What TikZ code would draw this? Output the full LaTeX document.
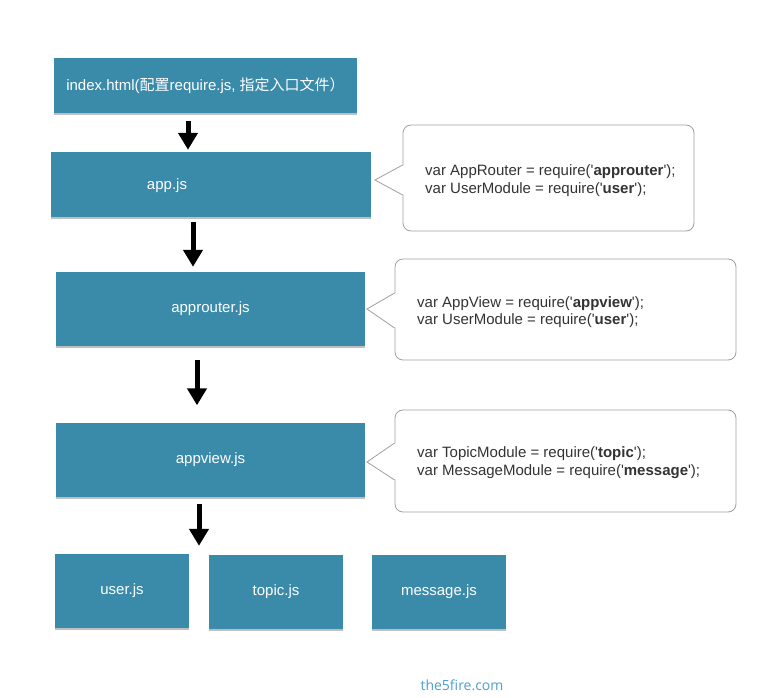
\documentclass[tikz,border=0pt]{standalone}
\usepackage{fontspec}
\setmainfont{Liberation Sans}
\newfontfamily\cjk{Noto Sans CJK SC}
\newfontfamily\wmfont{Open Sans}
\usetikzlibrary{arrows.meta,shadows}
\newcommand\sq{\textquotesingle}
\definecolor{boxblue}{RGB}{58,138,170}
\definecolor{calloutgray}{RGB}{160,160,160}
\definecolor{codegray}{RGB}{51,51,51}
\definecolor{wmblue}{RGB}{77,160,208}
\tikzset{
  modbox/.style={fill=boxblue, draw=none, inner sep=0pt, text=white,
    font=\fontsize{15}{17}\selectfont,
    drop shadow={shadow xshift=0pt, shadow yshift=-2pt, opacity=0.25, fill=black}},
  boxlabel/.style={text=white, inner sep=0pt, font=\fontsize{15}{17}\selectfont},
  callbox/.style={draw=calloutgray, line width=0.8pt, rounded corners=8pt, fill=white, inner sep=0pt},
  calltext/.style={text=codegray, inner sep=0pt, align=left, font=\fontsize{15}{17.5}\selectfont},
  pointer/.style={draw=calloutgray, line width=0.8pt},
  bigarrow/.style={line width=5pt, -{Triangle[width=19pt,length=17pt]}, black}
}
\begin{document}
\begin{tikzpicture}[x=1pt,y=-1pt]
\useasboundingbox[fill=white] (0,0) rectangle (780,698);

% module boxes
\node[modbox, minimum width=303pt, minimum height=55pt] (index) at (205.5,86)
  {index.html({\cjk 配置}require.js, {\cjk 指定入口文件）}};
\node[modbox, minimum width=320pt, minimum height=65pt] (app) at (211,184.5) {};
\node[boxlabel] (applbl) at (167,186) {app.js};
\node[modbox, minimum width=309pt, minimum height=74pt] (approuter) at (210.5,309) {approuter.js};
\node[modbox, minimum width=309pt, minimum height=74pt] (appview) at (210.5,459.5) {appview.js};
\node[modbox, minimum width=134pt, minimum height=74pt] (user) at (122,591) {user.js};
\node[modbox, minimum width=134pt, minimum height=74pt] (topic) at (276,592) {topic.js};
\node[modbox, minimum width=134pt, minimum height=74pt] (message) at (439,592) {message.js};

% arrows
\draw[bigarrow] ([xshift=-17.5pt,yshift=-7pt]index.south) -- ([xshift=-23pt,yshift=2pt]app.north);
\draw[bigarrow] ([xshift=-18pt,yshift=-5pt]app.south) -- ([xshift=-17.5pt,yshift=5pt]approuter.north);
\draw[bigarrow] ([xshift=-13.5pt,yshift=-14pt]approuter.south) -- ([xshift=-13.5pt,yshift=17pt]appview.north);
\draw[bigarrow] ([xshift=-11.5pt,yshift=-7pt]appview.south) -- ([xshift=77pt,yshift=8pt]user.north);

% callout 1
\node[callbox, minimum width=291pt, minimum height=106pt] (c1) at (548.5,178) {};
\coordinate (t1) at (375,180);
\fill[white] ([xshift=1.5pt,yshift=13pt]c1.west) -- (t1) -- ([xshift=1.5pt,yshift=-17pt]c1.west) -- cycle;
\draw[pointer] ([yshift=13pt]c1.west) -- (t1) -- ([yshift=-17pt]c1.west);
\node[calltext, anchor=west] (c1t) at (425,180.5)
  {var AppRouter = require(\sq\textbf{approuter}\sq);\\var UserModule = require(\sq\textbf{user}\sq);};

% callout 2
\node[callbox, minimum width=341pt, minimum height=101pt] (c2) at (565.5,309.5) {};
\coordinate (t2) at (367,309);
\fill[white] ([xshift=1.5pt,yshift=16.5pt]c2.west) -- (t2) -- ([xshift=1.5pt,yshift=-18.5pt]c2.west) -- cycle;
\draw[pointer] ([yshift=16.5pt]c2.west) -- (t2) -- ([yshift=-18.5pt]c2.west);
\node[calltext, anchor=west] (c2t) at (417,312)
  {var AppView = require(\sq\textbf{appview}\sq);\\var UserModule = require(\sq\textbf{user}\sq);};

% callout 3
\node[callbox, minimum width=341pt, minimum height=102pt] (c3) at (565.5,461) {};
\coordinate (t3) at (367,462);
\fill[white] ([xshift=1.5pt,yshift=18pt]c3.west) -- (t3) -- ([xshift=1.5pt,yshift=-19pt]c3.west) -- cycle;
\draw[pointer] ([yshift=18pt]c3.west) -- (t3) -- ([yshift=-19pt]c3.west);
\node[calltext, anchor=west] (c3t) at (417,462.5)
  {var TopicModule = require(\sq\textbf{topic}\sq);\\var MessageModule = require(\sq\textbf{message}\sq);};

% watermark
\node[text=wmblue, inner sep=0pt, font=\wmfont\fontsize{14}{16}\selectfont] (wm) at (462,685) {the5fire.com};
\end{tikzpicture}
\end{document}
